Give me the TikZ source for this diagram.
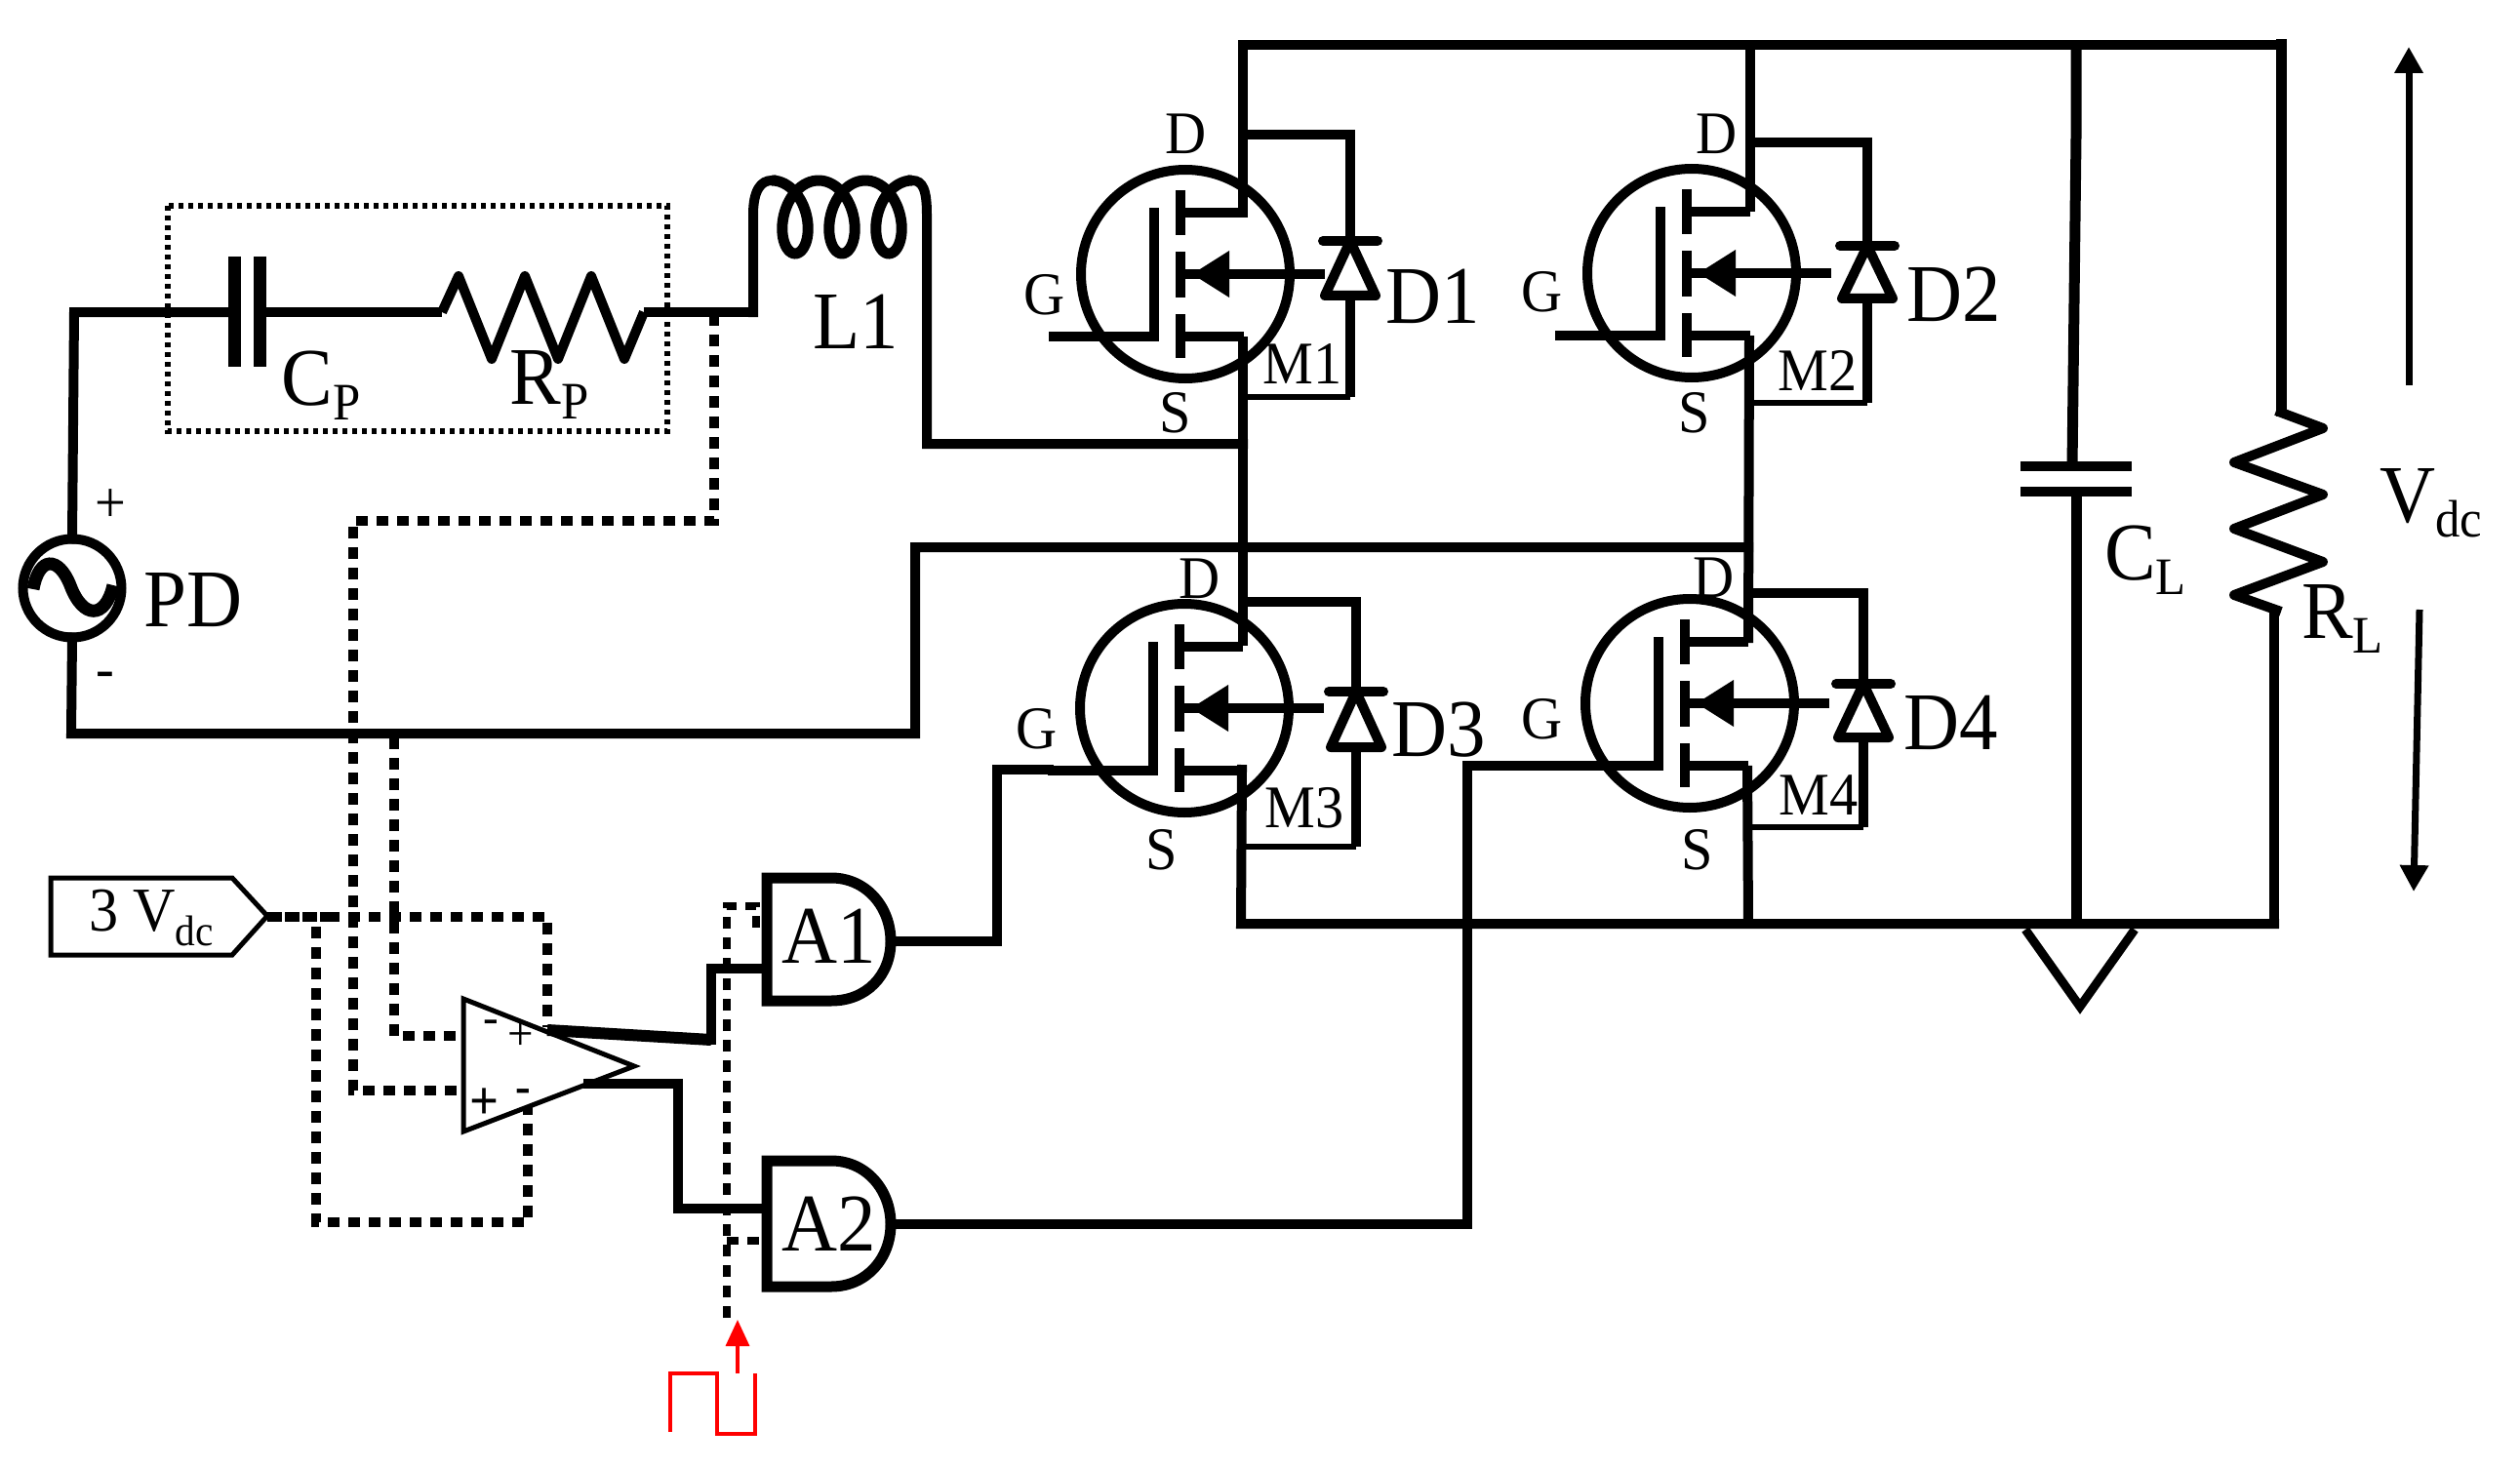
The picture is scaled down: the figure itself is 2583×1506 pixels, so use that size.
\documentclass[tikz,border=0pt]{standalone}
\usepackage{fontspec}
\setmainfont[FakeStretch=0.94]{Liberation Serif}
\usetikzlibrary{arrows.meta}
\newcommand{\fsz}[1]{\fontsize{#1}{#1}\selectfont}
\newcommand{\sbs}[3]{\raisebox{-#1pt}{\fsz{#2}#3}}
% one switch: name, centre x y, diode x, diode wire top, cathode, base, wire bottom
\newcommand{\mosfet}[8]{%
  \begin{scope}[shift={(#2,#3)}]
    \node[fet] (#1c) at (0,0) {};
    \draw[wire] (-140,64) -- (-32,64) -- (-32,-68);
    \draw[wire] (-5,-86) -- (-5,-40);
    \draw[wire] (-5,-23) -- (-5,24);
    \draw[wire] (-5,41) -- (-5,86);
    \draw[wire] (-5,-63) -- (60,-63);
    \draw[wire] (-5,64) -- (60,64);
    \draw[wire] (143,0) -- (-5,0);
    \fill (7,0) -- (45,-24) -- (45,24) -- cycle;
    \coordinate (#1k) at (#4,#6);
    \coordinate (#1a) at (#4,#7);
    \draw[wire] (60,#5) -- (#4,#5) -- (#1k);
    \draw[wire] (#1a) -- (#4,#8);
    \draw[thin wire] (#4,#8) -- (60,#8);
    \draw[wire,line cap=round] ([xshift=-28pt]#1k) -- ([xshift=28pt]#1k);
    \draw[wire,line join=round] (#1k) -- ([xshift=-26pt]#1a) -- ([xshift=26pt]#1a) -- cycle;
  \end{scope}}
\tikzset{
  x=1pt, y=-1pt,
  wire/.style={line width=10pt},
  thin wire/.style={line width=6pt},
  ctl/.style={line width=10pt, dash pattern=on 12pt off 9pt},
  box/.style={line width=6pt, dash pattern=on 5pt off 5pt},
  fet/.style={circle, draw, line width=10pt, minimum size=214pt, inner sep=0pt, outer sep=0pt},
  gate/.style={line width=11pt, line join=miter},
  big/.style={font=\fsz{84}, inner sep=0pt},
  mid/.style={font=\fsz{62}, inner sep=0pt},
  vtip/.style={-{Triangle[length=27pt,width=28pt]}, line width=7pt},
}
\begin{document}
\begin{tikzpicture}
\useasboundingbox (0,0) rectangle (2583,1506);
\fill[white] (0,0) rectangle (2583,1506);

% rails and junctions
\coordinate (tl) at (1274,46);
\coordinate (tm) at (1794,46);
\coordinate (tc) at (2128,46);
\coordinate (tr) at (2338,46);
\coordinate (bl) at (1272,947);
\coordinate (bm) at (1792,947);
\coordinate (bc) at (2128,947);
\coordinate (br) at (2331,947);
\coordinate (a1o) at (913,965);
\coordinate (a2o) at (913,1255);

\mosfet{M1}{1215}{281}{169}{-143}{-34}{22}{126}
\mosfet{M2}{1734}{280}{180}{-134}{-28}{26}{133}
\mosfet{M3}{1214}{726}{176}{-109}{-17}{40}{142}
\mosfet{M4}{1732}{721}{178}{-113}{-20}{35}{127}

% bridge
\draw[wire,line cap=rect] (tr) -- (tl) -- (1274,218);
\draw[wire] (1274,345) -- (1274,662);
\draw[wire,line cap=rect] (1273,789) -- (bl) -- (br);
\draw[wire] (1794,46) -- (1794,217);
\draw[wire] (1793,344) -- (1792,659);
\draw[wire] (1791,785) -- (bm);

% load capacitor and resistor
\coordinate (cl1) at (2124,478);
\coordinate (cl2) at (2128,504);
\draw[line width=11pt] (tc) -- (2128,140) -- (cl1);
\draw[wire] ([xshift=-53pt]cl1) -- ([xshift=61pt]cl1);
\draw[wire] ([xshift=-57pt]cl2) -- ([xshift=57pt]cl2);
\draw[line width=11pt] (cl2) -- (bc);
\draw[line width=11pt,line cap=rect] (tr) -- (2338,421);
\draw[wire,line join=round] (2333,421) -- (2381,439) -- (2290,474) -- (2381,507) -- (2290,542) -- (2381,576) -- (2290,610) -- (2338,627);
\draw[line width=10pt,line cap=rect] (2331,627) -- (br);
\draw[line width=9pt] (2076,953) -- (2132,1032) -- (2188,953);
\draw[vtip] (2469,395) -- (2469,48);
\draw[vtip] (2480,625) -- (2474,914);

% input branch
\node[circle,draw,line width=10pt,minimum size=101pt,inner sep=0pt,outer sep=0pt] (pd) at (74,603) {};
\draw[line width=13pt] (34,604) .. controls (40,570) and (60,570) .. (72,600) .. controls (85,635) and (108,635) .. (116,600);
\coordinate (cp1) at (240,320);
\coordinate (cp2) at (266,320);
\coordinate (rp1) at (453,320);
\coordinate (rp2) at (660,320);
\coordinate (l1a) at (772,320);
\draw[wire,line cap=rect] (pd.north) -- (76,320) -- (cp1);
\draw[line width=13pt] (240,263) -- (240,376);
\draw[line width=13pt] (266,263) -- (266,376);
\draw[wire] (cp2) -- (rp1);
\draw[wire,line join=round] (rp1) -- (470,283) -- (504,368) -- (538,283) -- (572,368) -- (606,283) -- (640,368) -- (rp2);
\draw[wire] (rp2) -- (l1a);
\draw[wire,line cap=rect] (l1a) -- (772,220) .. controls (772,195) and (780,185) .. (791,185);
\draw[line width=11pt] plot[domain=0:1080,samples=180,smooth] ({791+48*(\x/360)+24*sin(\x)},{222.5-37.5*cos(\x)});
\draw[wire,line cap=rect] (935,185) .. controls (946,185) and (950,195) .. (950,220) -- (950,455) -- (1274,455);
\draw[wire,line cap=rect] (pd.south) -- (73,752) -- (938,752) -- (938,561) -- (1792,561);
\draw[box] (172,211) rectangle (684,442);

% sensing lines
\draw[ctl] (732,322) -- (732,534) -- (362,534) -- (362,1118) -- (475,1118);
\draw[ctl] (404,756) -- (404,1062) -- (475,1062);
\draw[line width=10pt,dash pattern=on 15pt off 3pt] (274,940) -- (336,940);
\draw[ctl] (336,940) -- (561,940) -- (561,1053);
\draw[ctl] (324,950) -- (324,1253) -- (541,1253) -- (541,1120);

% comparator
\draw[line width=5pt,fill=white] (475,1024) -- (650,1093) -- (475,1160) -- cycle;
\draw[line width=12pt] (561,1056) -- (729,1066);
\draw[wire,line cap=rect] (729,1066) -- (729,993) -- (786,993);
\draw[wire,line cap=rect] (603,1111) -- (695,1111) -- (695,1239) -- (786,1239);

% gates
\draw[gate,fill=white] (786,900) -- (852,900) .. controls (888,900) and (913,930) .. (a1o) .. controls (913,1000) and (888,1026) .. (852,1026) -- (786,1026) -- cycle;
\draw[gate,fill=white] (786,1190) -- (852,1190) .. controls (888,1190) and (913,1220) .. (a2o) .. controls (913,1290) and (888,1319) .. (852,1319) -- (786,1319) -- cycle;
\draw[wire,line cap=rect] (a1o) -- (1022,965) -- (1022,789) -- (1075,789);
\draw[wire,line cap=rect] (a2o) -- (1504,1255) -- (1504,785) -- (1592,785);

% clock
\draw[ctl,line width=8pt] (745,1351) -- (745,929) -- (775,929) -- (775,952) -- (786,952);
\draw[ctl,line width=8pt] (745,1272) -- (786,1272);
\draw[red,line width=3.5pt] (687,1468) -- (687,1408) -- (735,1408) -- (735,1470) -- (774,1470) -- (774,1408);
\draw[red,line width=3.5pt,-{Triangle[length=27pt,width=24pt]}] (756,1408) -- (756,1353);

% reference box
\draw[line width=5pt] (52,900) -- (238,900) -- (274,939) -- (238,979) -- (52,979) -- cycle;
\node[font=\fsz{64},inner sep=0pt] (ref) at (155,941) {3 V\sbs{15}{44}{dc}};

% labels
\foreach \nm/\tx/\xx/\yy in {d1/D/1216/137,g1/G/1071/302,s1/S/1205/423,
  d2/D/1760/137,g2/G/1581/299,s2/S/1737/423,
  d3/D/1230/593,g3/G/1063/747,s3/S/1191/871,
  d4/D/1757/592,g4/G/1581/737,s4/S/1740/871}
  \node[mid] (\nm) at (\xx,\yy) {\tx};
\foreach \nm/\tx/\xx/\yy in {m1/M1/1335/373,m2/M2/1863/380,m3/M3/1337/828,m4/M4/1864/815}
  \node[font=\fsz{62},inner sep=0pt] (\nm) at (\xx,\yy) {\tx};
\foreach \nm/\tx/\xx/\yy in {q1/D1/1469/304,q2/D2/2003/302,q3/D3/1475/748,q4/D4/2000/741,lone/L1/877/330,pdl/PD/198/615,ga1/A1/850/960,ga2/A2/850/1255}
  \node[big] (\nm) at (\xx,\yy) {\tx};
\node[big] (cpl) at (329,395) {C\sbs{15}{54}{P}};
\node[big] (rpl) at (563,394) {R\sbs{15}{54}{P}};
\node[big] (cll) at (2199,574) {C\sbs{15}{54}{L}};
\node[big] (rll) at (2401,634) {R\sbs{15}{54}{L}};
\node[big] (vdc) at (2492,516) {V\sbs{15}{54}{dc}};
\node[font=\fsz{60},inner sep=0pt] (pls) at (113,519) {+};
\node[font=\fsz{60},inner sep=0pt] (mns) at (108,697) {-};
\node[font=\fsz{50},inner sep=0pt] (o1) at (503,1053) {-};
\node[font=\fsz{50},inner sep=0pt] (o2) at (534,1062) {+};
\node[font=\bfseries\fsz{56},inner sep=0pt] (o3) at (496,1132) {+};
\node[font=\bfseries\fsz{50},inner sep=0pt] (o4) at (536,1124) {-};
\end{tikzpicture}
\end{document}
